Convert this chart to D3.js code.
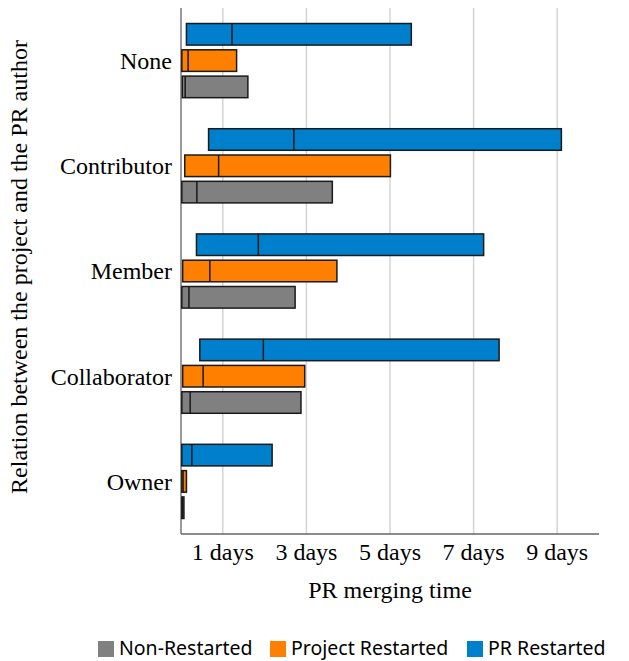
<!DOCTYPE html>
<html>
<head>
<meta charset="utf-8">
<script src="https://cdn.jsdelivr.net/npm/d3@7"></script>
<style>
  html, body { margin: 0; padding: 0; background: #fff; }
  svg { display: block; }
</style>
</head>
<body>
<svg id="chart" width="629" height="661"></svg>
<script>
// ---- data ----
const categories = ["None", "Contributor", "Member", "Collaborator", "Owner"];
const seriesNames = ["Non-Restarted", "Project Restarted", "PR Restarted"];
const seriesColors = ["#808080", "#ff8000", "#0080cc"];
// [start, median, end] in days
const nonRestarted = [
  [0.03, 0.10, 1.60],
  [0.02, 0.38, 3.62],
  [0.02, 0.19, 2.73],
  [0.02, 0.22, 2.87],
  [0.02, 0.04, 0.07]
];
const projectRestarted = [
  [0.02, 0.17, 1.33],
  [0.09, 0.90, 5.01],
  [0.04, 0.69, 3.73],
  [0.04, 0.53, 2.96],
  [0.02, 0.05, 0.13]
];
const prRestarted = [
  [0.13, 1.22, 5.51],
  [0.66, 2.70, 9.10],
  [0.37, 1.85, 7.24],
  [0.45, 1.97, 7.61],
  [0.02, 0.26, 2.18]
];
const tickValues = [1, 3, 5, 7, 9];
const tickLabels = ["1 days", "3 days", "5 days", "7 days", "9 days"];
const xMax = 10;

(function () {
// ---- layout ----
const svg = d3.select("#chart");
const mLeft = 181, mRight = 599, mTop = 8, mBottom = 534;
const serif = "'Liberation Serif', 'DejaVu Serif', serif";
const fs = 24;

const x = d3.scaleLinear().domain([0, xMax]).range([mLeft, mRight]);
const y = d3.scaleBand().domain(categories).range([mTop, mBottom]).padding(0);
const sub = d3.scaleBand().domain([2, 1, 0])
  .range([y.bandwidth() * 0.125, y.bandwidth() * 0.875]).paddingInner(0.18).paddingOuter(0.09);

// gridlines
svg.append("g").selectAll("line").data(tickValues).join("line")
  .attr("x1", d => x(d)).attr("x2", d => x(d))
  .attr("y1", mTop).attr("y2", mBottom)
  .attr("stroke", "#d4d4d4").attr("stroke-width", 1.5);

// axis lines
svg.append("line").attr("x1", mLeft).attr("x2", mLeft).attr("y1", mTop).attr("y2", mBottom)
  .attr("stroke", "#777").attr("stroke-width", 1.5);
svg.append("line").attr("x1", mLeft).attr("x2", mRight).attr("y1", mBottom).attr("y2", mBottom)
  .attr("stroke", "#666").attr("stroke-width", 1.5);

// bars
const allSeries = [nonRestarted, projectRestarted, prRestarted];
allSeries.forEach((vals, si) => {
  const g = svg.append("g");
  categories.forEach((c, ci) => {
    const [s, m, e] = vals[ci];
    const yy = y(c) + sub(si);
    const h = sub.bandwidth();
    g.append("rect")
      .attr("x", x(s)).attr("y", yy)
      .attr("width", x(e) - x(s)).attr("height", h)
      .attr("fill", seriesColors[si])
      .attr("stroke", "#1a1a1a").attr("stroke-width", 1.5);
    g.append("line")
      .attr("x1", x(m)).attr("x2", x(m))
      .attr("y1", yy).attr("y2", yy + h)
      .attr("stroke", "#1a1a1a").attr("stroke-width", 1.5);
  });
});

// category labels
svg.append("g").selectAll("text").data(categories).join("text")
  .attr("x", 172).attr("y", d => y(d) + y.bandwidth() / 2)
  .attr("dy", "0.35em")
  .attr("text-anchor", "end")
  .attr("font-family", serif).attr("font-size", fs)
  .attr("fill", "#000")
  .text(d => d);

// tick labels
svg.append("g").selectAll("text").data(tickValues).join("text")
  .attr("x", d => x(d)).attr("y", 560)
  .attr("text-anchor", "middle")
  .attr("font-family", serif).attr("font-size", fs)
  .attr("fill", "#000")
  .text((d, i) => tickLabels[i]);

// axis titles
svg.append("text")
  .attr("x", (mLeft + mRight) / 2).attr("y", 598)
  .attr("text-anchor", "middle")
  .attr("font-family", serif).attr("font-size", fs)
  .text("PR merging time");

svg.append("text")
  .attr("transform", `translate(27, 267) rotate(-90)`)
  .attr("text-anchor", "middle")
  .attr("font-family", serif).attr("font-size", fs)
  .text("Relation between the project and the PR author");

// legend
const legendX = [98, 270, 467];
const lg = svg.append("g");
seriesNames.forEach((n, i) => {
  lg.append("rect").attr("x", legendX[i]).attr("y", 641).attr("width", 16).attr("height", 16)
    .attr("fill", seriesColors[i]);
  lg.append("text").attr("x", legendX[i] + 21).attr("y", 655)
    .attr("font-family", "'Noto Sans', 'DejaVu Sans', sans-serif").attr("font-size", 19.5)
    .attr("fill", "#000")
    .text(n);
});
})();
</script>
</body>
</html>
